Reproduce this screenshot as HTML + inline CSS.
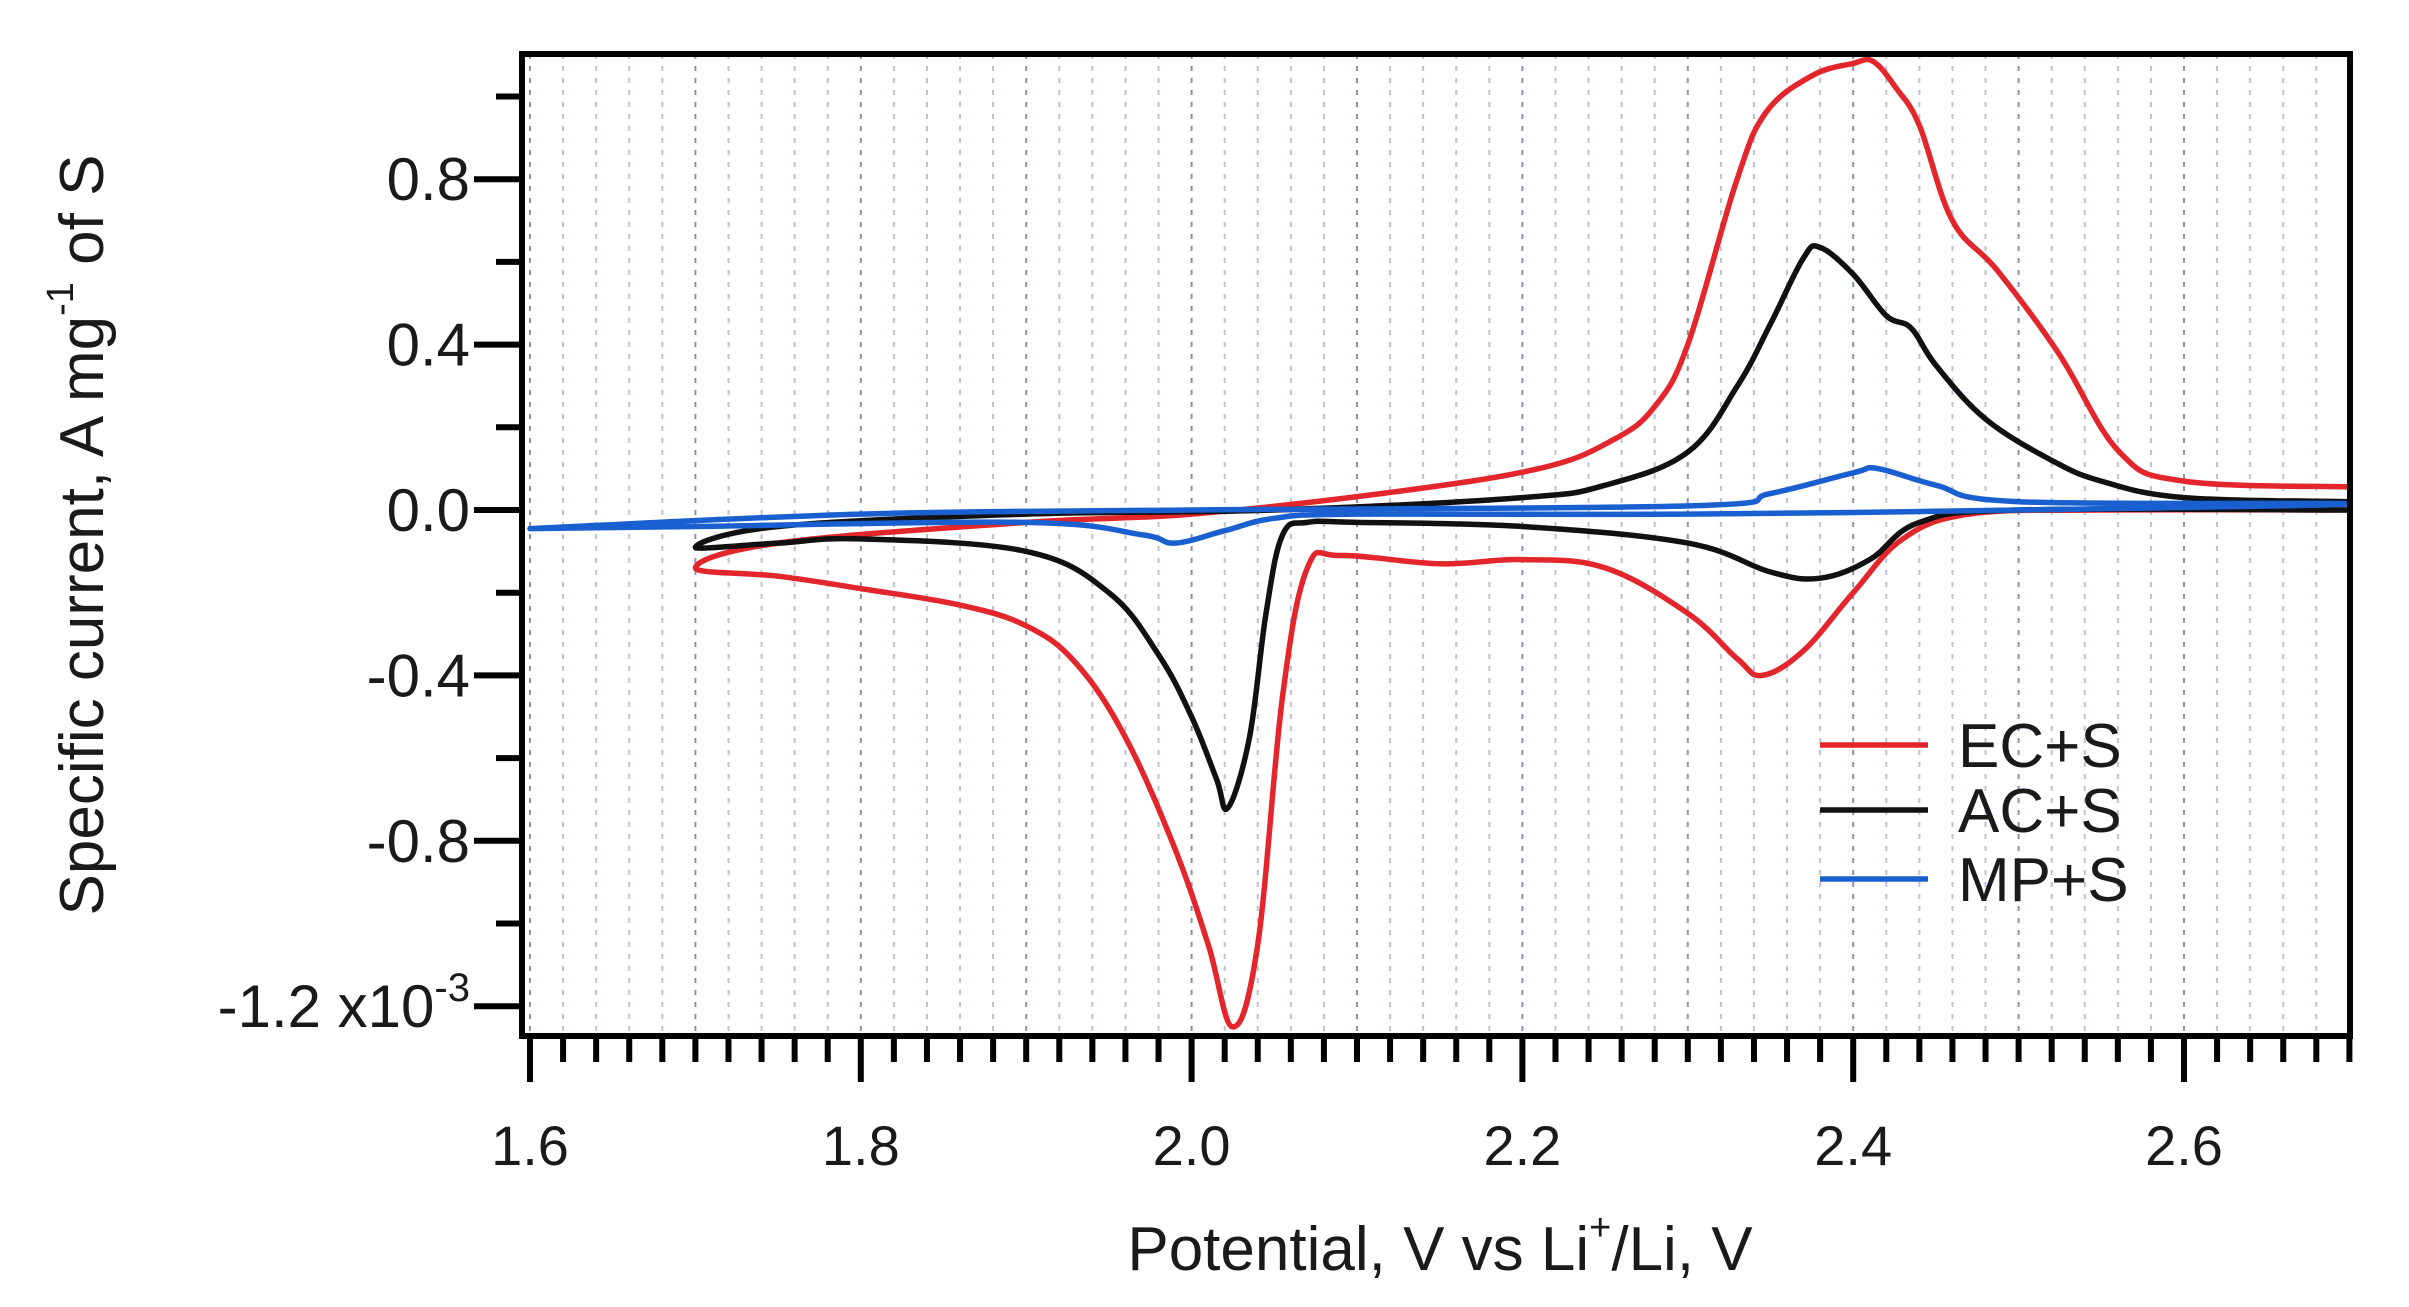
<!DOCTYPE html>
<html><head><meta charset="utf-8"><style>
html,body{margin:0;padding:0;background:#fff}
svg{display:block}
text{font-family:"Liberation Sans",Arial,sans-serif;fill:#1a1a1a}
</style></head><body>
<svg id="chart" width="2409" height="1307" viewBox="0 0 2409 1307" xmlns="http://www.w3.org/2000/svg">
<g id="grid"></g>
<g id="series"></g>
<g id="axes"></g>
<text transform="translate(103,535) rotate(-90)" text-anchor="middle" font-size="62">Specific current, A mg<tspan dy="-30" font-size="38">-1</tspan><tspan dy="30"> of S</tspan></text>
<text x="1440" y="1270" text-anchor="middle" font-size="62">Potential, V vs Li<tspan dy="-30" font-size="38">+</tspan><tspan dy="30">/Li, V</tspan></text>
<g>
<line x1="1820" y1="745" x2="1928" y2="745" stroke="#e3262c" stroke-width="5.5"/>
<text x="1958" y="767" font-size="62">EC+S</text>
<line x1="1820" y1="810" x2="1928" y2="810" stroke="#111" stroke-width="5.5"/>
<text x="1958" y="832" font-size="62">AC+S</text>
<line x1="1820" y1="879" x2="1928" y2="879" stroke="#1a5fd0" stroke-width="5.5"/>
<text x="1958" y="901" font-size="62">MP+S</text>
</g>
</svg>
<script>
const ecV=[2.70,2.60,2.561,2.524,2.487,2.46,2.44,2.426,2.412,2.40,2.375,2.347,2.329,2.30,2.28,2.255,2.21,2.115,2.0,1.9,1.75,1.70,1.75,1.8,1.86,1.9,1.93,1.96,1.99,2.01,2.025,2.04,2.055,2.07,2.09,2.15,2.2,2.25,2.30,2.33,2.345,2.37,2.40,2.43,2.47,2.55,2.70];
const ecI=[0.056,0.07,0.14,0.38,0.58,0.70,0.93,1.02,1.085,1.08,1.05,0.96,0.79,0.40,0.25,0.17,0.10,0.04,-0.01,-0.03,-0.08,-0.14,-0.16,-0.19,-0.23,-0.28,-0.37,-0.55,-0.82,-1.05,-1.25,-1.05,-0.45,-0.14,-0.11,-0.13,-0.12,-0.14,-0.25,-0.36,-0.40,-0.34,-0.20,-0.07,-0.01,0.0,0.0];
const acV=[2.70,2.60,2.55,2.52,2.48,2.45,2.435,2.42,2.40,2.38,2.37,2.35,2.33,2.30,2.25,2.20,2.05,1.90,1.75,1.70,1.75,1.8,1.9,1.95,1.98,2.0,2.015,2.022,2.035,2.045,2.055,2.07,2.1,2.2,2.3,2.35,2.38,2.41,2.44,2.5,2.7];
const acI=[0.02,0.03,0.07,0.12,0.22,0.35,0.44,0.47,0.57,0.635,0.61,0.45,0.30,0.14,0.06,0.03,0.0,-0.01,-0.04,-0.09,-0.08,-0.07,-0.10,-0.20,-0.35,-0.50,-0.65,-0.72,-0.55,-0.25,-0.06,-0.03,-0.03,-0.04,-0.08,-0.15,-0.165,-0.12,-0.03,0.0,0.0];
const mpV=[1.60,1.8,2.0,2.3,2.35,2.4,2.415,2.45,2.5,2.7,2.5,2.3,2.1,2.05,2.02,1.99,1.97,1.9,1.7,1.60];
const mpI=[-0.045,-0.01,0.0,0.01,0.04,0.09,0.10,0.06,0.02,0.015,0.0,-0.01,-0.01,-0.02,-0.05,-0.08,-0.06,-0.03,-0.04,-0.045];
const xTickLabels=["1.6","1.8","2.0","2.2","2.4","2.6"];
const yTickLabels=["0.8","0.4","0.0","-0.4","-0.8","-1.2"];
const NS="http://www.w3.org/2000/svg";
const L=522,T=54,R=2350,B=1036;
const sx=v=>530+(v-1.6)*1654;
const sy=i=>510-i*413.5;
function mk(tag,attrs,parent){const e=document.createElementNS(NS,tag);for(const k in attrs)e.setAttribute(k,attrs[k]);parent.appendChild(e);return e;}
const grid=document.getElementById('grid'),ser=document.getElementById('series'),ax=document.getElementById('axes');
for(let k=0;k<=55;k++){const v=1.6+k*0.02;const x=sx(v);if(x<=L+2||x>=R-2)continue;
 const g=mk('line',{x1:x,y1:T,x2:x,y2:B,stroke:(k%5==0)?'#8c92aa':'#bcc1d4','stroke-width':2,'stroke-dasharray':'5 7'},grid);
 
 }
function smooth(P){let d='M'+P[0][0].toFixed(1)+','+P[0][1].toFixed(1);
 for(let j=0;j<P.length-1;j++){const p0=P[j-1]||P[j],p1=P[j],p2=P[j+1],p3=P[j+2]||p2;const t=0.18;
  const c1=[p1[0]+(p2[0]-p0[0])*t,p1[1]+(p2[1]-p0[1])*t],c2=[p2[0]-(p3[0]-p1[0])*t,p2[1]-(p3[1]-p1[1])*t];
  d+=' C'+c1.map(n=>n.toFixed(1)).join(',')+' '+c2.map(n=>n.toFixed(1)).join(',')+' '+p2[0].toFixed(1)+','+p2[1].toFixed(1);}
 return d;}
function draw(V,I,color,name){const P=V.map((v,j)=>[sx(v),sy(I[j])]);
 const p=mk('path',{d:smooth(P),fill:'none',stroke:color,'stroke-width':5.5,'stroke-linejoin':'round','stroke-linecap':'round'},ser);
 
 }
draw(ecV,ecI,'#e3262c','series-ec-s');
draw(acV,acI,'#111111','series-ac-s');
draw(mpV,mpI,'#1a5fd0','series-mp-s');
const fr=mk('rect',{x:L,y:T,width:R-L,height:B-T,fill:'none',stroke:'#000','stroke-width':6},ax);


for(let k=0;k<=55;k++){const v=1.6+k*0.02;const x=sx(v);if(x>R+2)continue;const major=k%10==0;
 const t=mk('line',{x1:x,y1:B,x2:x,y2:B+(major?46:26),stroke:'#000','stroke-width':6},ax);
 
 }
xTickLabels.forEach(s=>{const t=mk('text',{x:sx(parseFloat(s)),y:1165,'text-anchor':'middle','font-size':56},ax);t.textContent=s;
 
 });
for(let k=-6;k<=5;k++){const v=k*0.2;const y=sy(v);const major=k%2==0;
 const t=mk('line',{x1:L,y1:y,x2:L-(major?48:26),y2:y,stroke:'#000','stroke-width':6},ax);
 
 }
yTickLabels.forEach(s=>{const y=sy(parseFloat(s))+21;const t=mk('text',{x:470,y:y,'text-anchor':'end','font-size':60},ax);
 if(s==="-1.2"){t.innerHTML='-1.2 x10<tspan dy="-26" font-size="40">-3</tspan>';}else t.textContent=s;
 
 });
</script>
</body></html>
